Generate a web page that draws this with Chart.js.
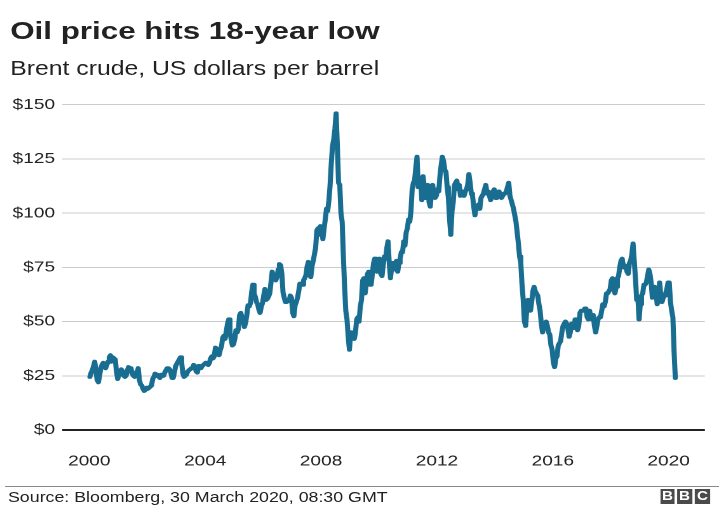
<!DOCTYPE html>
<html>
<head>
<meta charset="utf-8">
<script src="https://cdn.jsdelivr.net/npm/chart.js@4.4.1/dist/chart.umd.min.js"></script>
<style>
    html, body { margin: 0; padding: 0; background: #fff; overflow: hidden; }
    /* the reference is a horizontally stretched graphic, so the whole page is drawn narrow and scaled out */
    #page {
        position: absolute; left: 0; top: 0; width: 566px; height: 513px;
        transform: scaleX(1.2703); transform-origin: 0 0;
        font-family: "Liberation Sans", Arial, sans-serif; color: #222;
    }
    #title { position: absolute; left: 8px; top: 18.6px; font-size: 24.7px; line-height: 24.7px; font-weight: bold; white-space: nowrap; }
    #subtitle { position: absolute; left: 8px; top: 59px; font-size: 19.5px; line-height: 19.5px; white-space: nowrap; }
    #oilChart { position: absolute; left: 0; top: 0; width: 566px; height: 513px; }
    #rule { position: absolute; left: 4px; right: 0; top: 485.5px; height: 1px; background: #8a8a8a; }
    #source { position: absolute; left: 6.3px; top: 489.5px; font-size: 14px; line-height: 14.5px; white-space: nowrap; }
    .bbc { position: absolute; top: 489px; width: 11.8px; height: 15px; background: #4a4a4a; color: #fff;
           font-weight: bold; font-size: 12px; line-height: 15px; text-align: center; }
</style>
</head>
<body>
<div id="page">
    <div id="title">Oil price hits 18-year low</div>
    <div id="subtitle">Brent crude, US dollars per barrel</div>
    <canvas id="oilChart" width="566" height="513"></canvas>
    <div id="rule"></div>
    <div id="source">Source: Bloomberg, 30 March 2020, 08:30 GMT</div>
    <div class="bbc" style="left:519.6px">B</div>
    <div class="bbc" style="left:533px">B</div>
    <div class="bbc" style="left:547.1px">C</div>
</div>
<script>
// --- Data: Brent crude, two readings per month (USD per barrel) ---
const years = [2000, 2001, 2002, 2003, 2004, 2005, 2006, 2007, 2008, 2009,
               2010, 2011, 2012, 2013, 2014, 2015, 2016, 2017, 2018, 2019, 2020];
const readingsPerYear = 24;
const prices = [
    [24.5, 26.5, 27.5, 29.5, 31.5, 27, 23, 22, 25, 28.5, 30, 31, 29, 28.5, 30, 31.5, 33.5, 34.5, 31.5, 33.5, 33, 32.5, 27, 23.5], // 2000
    [25.5, 27, 28, 27, 25, 24.5, 25, 27.5, 29, 28.5, 28.5, 26, 25, 24.5, 26.5, 26, 28.5, 23, 21, 20.5, 19, 18, 18.5, 19.5],       // 2001
    [19, 19.5, 20, 20.5, 23.5, 24.5, 26, 25, 25.5, 24.5, 24, 25.5, 25.5, 25, 26.5, 27.5, 28.5, 28.5, 28, 26.5, 24, 24, 26.5, 29.5], // 2002
    [30.5, 31.5, 32.5, 33.5, 31, 26, 24.5, 25, 25.5, 27, 27.5, 28, 28.5, 28.5, 30, 29.5, 27, 26.5, 29.5, 29.5, 28.5, 29.5, 30, 30.5], // 2003
    [31, 30.5, 30, 31, 33, 34, 33, 34, 38, 37.5, 35, 34.5, 37, 38.5, 42.5, 43.5, 42, 45.5, 49, 51, 45, 42, 39, 39.5],            // 2004
    [42, 46, 45, 46.5, 53, 54, 52, 51, 47.5, 49.5, 53, 57.5, 57, 58.5, 63.5, 67, 63, 61.5, 59, 58, 55.5, 54, 57, 58.5],          // 2005
    [62, 65, 60, 60.5, 61.5, 63, 68, 73, 71, 70, 69, 70.5, 74, 76.5, 76, 72, 63.5, 61, 59, 59, 59.5, 59.5, 62, 61],              // 2006
    [54, 52.5, 57.5, 59, 61, 64, 67.5, 67.5, 67, 69, 70, 71.5, 75.5, 77.5, 71.5, 70.5, 75.5, 78, 81, 84, 92, 93, 90, 94],        // 2007
    [93, 88, 93, 97, 102, 101, 106, 113, 123, 131, 134, 139, 146, 131, 114, 113, 100, 96, 80, 66, 55, 51, 43, 37],             // 2008
    [45, 44, 43, 42, 45, 51, 52, 50, 57, 60, 69, 70, 63, 68, 72, 73, 67, 67, 72, 77, 79, 76, 73, 77],                          // 2009
    [79, 72, 71, 76, 80, 79, 84, 87, 77, 70, 75, 77, 74, 77, 78, 73, 77, 79, 82, 82, 87, 85, 91, 93],                          // 2010
    [97, 96, 101, 111, 114, 115, 121, 126, 112, 113, 116, 106, 117, 117, 107, 110, 113, 105, 103, 110, 113, 108, 107, 108],    // 2011
    [111, 110, 117, 122, 126, 124, 120, 119, 112, 107, 97, 90, 101, 105, 113, 114, 115, 111, 113, 108, 109, 110, 108, 110],    // 2012
    [111, 113, 118, 114, 109, 108, 103, 99, 103, 103, 104, 102, 107, 108, 109, 111, 113, 109, 110, 108, 106, 109, 110, 111],   // 2013
    [107, 108, 109, 110, 108, 107, 108, 109, 109, 110, 112, 114, 108, 106, 104, 102, 99, 96, 91, 86, 80, 77, 67, 60],          // 2014
    [50, 48, 56, 60, 57, 55, 59, 64, 66, 64, 63, 62, 58, 55, 49, 45, 48, 48, 50, 48, 45, 44, 39, 37],                          // 2015
    [31, 29, 33, 34, 39, 40, 41, 45, 48, 49, 50, 49, 47, 43, 45, 49, 47, 47, 51, 51, 46, 48, 54, 55],                          // 2016
    [55, 55, 56, 56, 52, 51, 55, 52, 51, 53, 48, 45, 48, 51, 52, 52, 55, 58, 57, 59, 63, 63, 64, 65],                          // 2017
    [69, 70, 65, 63, 66, 70, 71, 75, 78, 79, 75, 76, 75, 73, 72, 77, 78, 81, 86, 78, 70, 60, 61, 51],                          // 2018
    [58, 62, 63, 67, 67, 68, 71, 74, 72, 68, 61, 65, 66, 63, 58, 60, 68, 62, 59, 61, 62, 63, 65, 68],                          // 2019
    [68, 59, 55, 52, 36, 24]                                                                                                   // 2020 (to 30 March)
];
const xTickYears = [2000, 2004, 2008, 2012, 2016, 2020];
const yTickValues = [0, 25, 50, 75, 100, 125, 150];

const FONT = '"Liberation Sans", Arial, sans-serif';
const INK = '#222';

// each reading sits in the middle of its half-month slot
const points = [];
prices.forEach((row, r) => {
    row.forEach((p, i) => points.push({ x: years[r] + (i + 0.5) / readingsPerYear, y: p }));
});

const ctx = document.getElementById('oilChart').getContext('2d');
new Chart(ctx, {
    type: 'line',
    data: {
        datasets: [{
            data: points,
            borderColor: '#186d91',
            borderWidth: 4,
            pointRadius: 0,
            tension: 0,
            borderJoinStyle: 'round',
            borderCapStyle: 'round'
        }]
    },
    options: {
        responsive: false,
        animation: false,
        devicePixelRatio: 2,
        layout: { padding: { top: 104.7, right: 7.9, bottom: 33, left: 0 } },
        plugins: {
            legend: { display: false },
            tooltip: { enabled: false }
        },
        scales: {
            x: {
                type: 'linear',
                min: 1999.057,
                max: 2021.25,
                afterBuildTicks: s => { s.ticks = xTickYears.map(v => ({ value: v })); },
                afterFit: s => { s.height = 50; },
                grid: { display: false, drawTicks: false },
                border: { display: false },
                ticks: {
                    padding: 22.5,
                    color: INK,
                    font: { family: FONT, size: 15 },
                    maxRotation: 0,
                    autoSkip: false,
                    callback: v => String(v)
                }
            },
            y: {
                min: 0,
                max: 150,
                afterBuildTicks: s => { s.ticks = yTickValues.map(v => ({ value: v })); },
                afterFit: s => { s.width = 48.8; },
                border: { display: false },
                grid: {
                    drawTicks: false,
                    color: c => c.tick.value === 0 ? '#222' : '#cccccc',
                    lineWidth: c => c.tick.value === 0 ? 2 : 1
                },
                ticks: {
                    padding: 5.5,
                    color: INK,
                    font: { family: FONT, size: 15 },
                    callback: v => '$' + v
                }
            }
        }
    }
});
</script>
</body>
</html>
